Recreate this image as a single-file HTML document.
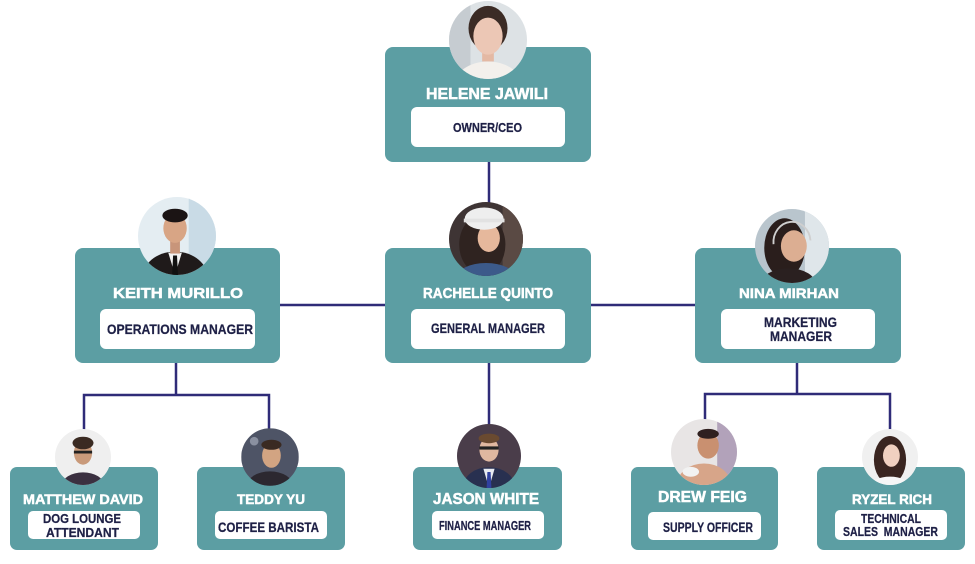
<!DOCTYPE html>
<html><head><meta charset="utf-8"><style>
html,body{margin:0;padding:0;background:#fff;}
svg{display:block;}
.nm{font-family:"Liberation Sans",sans-serif;font-weight:bold;fill:#fff;stroke:#fff;stroke-width:0.5;}
.rl{font-family:"Liberation Sans",sans-serif;font-weight:bold;fill:#1e2046;stroke:#1e2046;stroke-width:0.25;}
</style></head><body>
<svg width="975" height="564" viewBox="0 0 975 564" xmlns="http://www.w3.org/2000/svg">
<defs><clipPath id="c"><circle cx="0" cy="0" r="40"/></clipPath></defs>
<rect width="975" height="564" fill="#fff"/>
<g stroke="#2f2b78" stroke-width="2.5" fill="none">
<line x1="489" y1="160" x2="489" y2="205"/>
<line x1="278" y1="305" x2="387" y2="305"/>
<line x1="589" y1="305" x2="697" y2="305"/>
<polyline points="176,361 176,395"/>
<polyline points="84,431 84,395 269,395 269,430"/>
<line x1="489" y1="361" x2="489" y2="426"/>
<polyline points="797,361 797,394"/>
<polyline points="705,421 705,394 890,394 890,430"/>
</g>
<g fill="#5c9ea3">
<rect x="385" y="47" width="206" height="115" rx="8"/>
<rect x="75" y="248" width="205" height="115" rx="8"/>
<rect x="385" y="248" width="206" height="115" rx="8"/>
<rect x="695" y="248" width="206" height="115" rx="8"/>
<rect x="10" y="467" width="148" height="83" rx="7"/>
<rect x="197" y="467" width="148" height="83" rx="7"/>
<rect x="413" y="467" width="149" height="83" rx="7"/>
<rect x="631" y="467" width="147" height="83" rx="7"/>
<rect x="817" y="467" width="148" height="83" rx="7"/>
</g>
<g fill="#fff">
<rect x="411" y="107" width="154" height="40" rx="6"/>
<rect x="100" y="309" width="155" height="40" rx="6"/>
<rect x="411" y="309" width="154" height="40" rx="6"/>
<rect x="721" y="309" width="154" height="40" rx="6"/>
<rect x="28" y="511" width="112" height="28" rx="5"/>
<rect x="215" y="511" width="112" height="28" rx="5"/>
<rect x="432" y="511" width="112" height="28" rx="5"/>
<rect x="648" y="512" width="113" height="28" rx="5"/>
<rect x="835" y="510" width="112" height="30" rx="5"/>
</g>

<!-- Helene -->
<g transform="translate(488,40) scale(0.975)"><g clip-path="url(#c)">
<rect x="-40" y="-40" width="80" height="80" fill="#dde2e5"/>
<rect x="-40" y="-40" width="22" height="80" fill="#c6ccd1"/>
<ellipse cx="0" cy="-12" rx="20" ry="23" fill="#3b2b25"/>
<ellipse cx="0" cy="46" rx="34" ry="24" fill="#f3f0ec"/>
<rect x="-6" y="8" width="12" height="14" fill="#e4b9a4"/>
<ellipse cx="0" cy="-4" rx="15" ry="19" fill="#ecc7b5"/>
</g></g>
<!-- Keith -->
<g transform="translate(177,236) scale(0.975)"><g clip-path="url(#c)">
<rect x="-40" y="-40" width="80" height="80" fill="#e4edf2"/>
<rect x="12" y="-40" width="28" height="80" fill="#c9dbe6"/>
<ellipse cx="-2" cy="44" rx="34" ry="28" fill="#1f1a1a"/>
<polygon points="-9,17 5,17 -2,40" fill="#f2f2f2"/>
<polygon points="-4,20 0,20 1,40 -5,40" fill="#111"/>
<rect x="-7" y="4" width="10" height="14" fill="#c8957a"/>
<ellipse cx="-2" cy="-8" rx="12" ry="15" fill="#d8a585"/>
<ellipse cx="-2" cy="-21" rx="13" ry="7" fill="#1b1414"/>
</g></g>
<!-- Rachelle -->
<g transform="translate(486,239) scale(0.925)"><g clip-path="url(#c)">
<rect x="-40" y="-40" width="80" height="80" fill="#3e3434"/>
<rect x="18" y="-40" width="22" height="80" fill="#5a4a44"/>
<ellipse cx="-4" cy="6" rx="25" ry="32" fill="#2f2320"/>
<ellipse cx="0" cy="42" rx="32" ry="16" fill="#3c5a8a"/>
<ellipse cx="3" cy="-1" rx="12" ry="15" fill="#e6b89c"/>
<ellipse cx="-2" cy="-22" rx="21" ry="12" fill="#eeeeee"/>
<rect x="-24" y="-22" width="44" height="4" fill="#e2e2e2"/>
</g></g>
<!-- Nina -->
<g transform="translate(792,246) scale(0.925)"><g clip-path="url(#c)">
<rect x="-40" y="-40" width="80" height="80" fill="#b9c5cd"/>
<rect x="14" y="-40" width="26" height="80" fill="#dfe6ea"/>
<ellipse cx="-8" cy="2" rx="22" ry="32" fill="#2a1e1c"/>
<ellipse cx="-4" cy="42" rx="30" ry="18" fill="#2a2020"/>
<ellipse cx="2" cy="0" rx="14" ry="17" fill="#dcae92"/>
<path d="M-20,-2 A20,22 0 0 1 20,-6" stroke="#cfcfcf" stroke-width="2" fill="none"/>
</g></g>
<!-- Matthew -->
<g transform="translate(83,457) scale(0.7)"><g clip-path="url(#c)">
<rect x="-40" y="-40" width="80" height="80" fill="#efefef"/>
<ellipse cx="0" cy="40" rx="30" ry="18" fill="#3b3040"/>
<ellipse cx="0" cy="-6" rx="13" ry="17" fill="#c99a7a"/>
<ellipse cx="0" cy="-20" rx="15" ry="9" fill="#3a2a22"/>
<rect x="-13" y="-9" width="26" height="4" fill="#222"/>
</g></g>
<!-- Teddy -->
<g transform="translate(270,457) scale(0.72)"><g clip-path="url(#c)">
<rect x="-40" y="-40" width="80" height="80" fill="#4e5466"/>
<circle cx="-22" cy="-22" r="6" fill="#8a90a0"/>
<ellipse cx="0" cy="40" rx="32" ry="20" fill="#2c2830"/>
<ellipse cx="2" cy="-2" rx="13" ry="17" fill="#d2a482"/>
<ellipse cx="2" cy="-17" rx="14" ry="7" fill="#3a2a22"/>
</g></g>
<!-- Jason -->
<g transform="translate(489,456) scale(0.8)"><g clip-path="url(#c)">
<rect x="-40" y="-40" width="80" height="80" fill="#4a3d4a"/>
<ellipse cx="0" cy="38" rx="32" ry="24" fill="#283050"/>
<polygon points="-7,16 7,16 0,40" fill="#e8eaf0"/>
<polygon points="-2,20 2,20 3,40 -3,40" fill="#3040a0"/>
<ellipse cx="0" cy="-8" rx="12" ry="15" fill="#e0b8a0"/>
<ellipse cx="0" cy="-22" rx="13" ry="6" fill="#6a4a30"/>
<rect x="-12" y="-12" width="24" height="4" fill="#222"/>
</g></g>
<!-- Drew -->
<g transform="translate(704,452) scale(0.825)"><g clip-path="url(#c)">
<rect x="-40" y="-40" width="80" height="80" fill="#e8e5e5"/>
<rect x="16" y="-40" width="24" height="80" fill="#b2a2ba"/>
<ellipse cx="0" cy="38" rx="32" ry="24" fill="#d7a589"/>
<ellipse cx="-16" cy="24" rx="10" ry="6" fill="#f2f2f2"/>
<ellipse cx="5" cy="-8" rx="13" ry="16" fill="#c99070"/>
<ellipse cx="5" cy="-22" rx="13" ry="6" fill="#302020"/>
</g></g>
<!-- Ryzel -->
<g transform="translate(890,457) scale(0.7)"><g clip-path="url(#c)">
<rect x="-40" y="-40" width="80" height="80" fill="#f0f0f0"/>
<ellipse cx="0" cy="4" rx="23" ry="34" fill="#3a2520"/>
<ellipse cx="0" cy="42" rx="28" ry="14" fill="#f6f6f6"/>
<ellipse cx="2" cy="-2" rx="12" ry="16" fill="#f0d0c0"/>
</g></g>

<!-- Names -->
<text class="nm" x="426" y="99" font-size="16" textLength="122" lengthAdjust="spacingAndGlyphs">HELENE JAWILI</text>
<text class="nm" x="113" y="298" font-size="15" textLength="130" lengthAdjust="spacingAndGlyphs">KEITH MURILLO</text>
<text class="nm" x="423" y="298" font-size="15" textLength="130" lengthAdjust="spacingAndGlyphs">RACHELLE QUINTO</text>
<text class="nm" x="739" y="298" font-size="14" textLength="100" lengthAdjust="spacingAndGlyphs">NINA MIRHAN</text>
<text class="nm" x="23" y="504" font-size="14" textLength="120" lengthAdjust="spacingAndGlyphs">MATTHEW DAVID</text>
<text class="nm" x="237" y="504" font-size="14" textLength="68" lengthAdjust="spacingAndGlyphs">TEDDY YU</text>
<text class="nm" x="433" y="504" font-size="16" textLength="106" lengthAdjust="spacingAndGlyphs">JASON WHITE</text>
<text class="nm" x="658" y="502" font-size="15.5" textLength="89" lengthAdjust="spacingAndGlyphs">DREW FEIG</text>
<text class="nm" x="852" y="504" font-size="14" textLength="80" lengthAdjust="spacingAndGlyphs">RYZEL RICH</text>

<!-- Roles -->
<text class="rl" x="453" y="132" font-size="12.5" textLength="69" lengthAdjust="spacingAndGlyphs">OWNER/CEO</text>
<text class="rl" x="107" y="334" font-size="14" textLength="146" lengthAdjust="spacingAndGlyphs">OPERATIONS MANAGER</text>
<text class="rl" x="431" y="333" font-size="14" textLength="114" lengthAdjust="spacingAndGlyphs">GENERAL MANAGER</text>
<text class="rl" x="764" y="327" font-size="13.5" textLength="73" lengthAdjust="spacingAndGlyphs">MARKETING</text>
<text class="rl" x="770" y="341" font-size="13.5" textLength="62" lengthAdjust="spacingAndGlyphs">MANAGER</text>
<text class="rl" x="43" y="523" font-size="13" textLength="78" lengthAdjust="spacingAndGlyphs">DOG LOUNGE</text>
<text class="rl" x="46" y="537" font-size="13" textLength="73" lengthAdjust="spacingAndGlyphs">ATTENDANT</text>
<text class="rl" x="218" y="532" font-size="14" textLength="101" lengthAdjust="spacingAndGlyphs">COFFEE BARISTA</text>
<text class="rl" x="439" y="530" font-size="12.5" textLength="92" lengthAdjust="spacingAndGlyphs">FINANCE MANAGER</text>
<text class="rl" x="663" y="532" font-size="13.5" textLength="90" lengthAdjust="spacingAndGlyphs">SUPPLY OFFICER</text>
<text class="rl" x="861" y="523" font-size="13" textLength="60" lengthAdjust="spacingAndGlyphs">TECHNICAL</text>
<text class="rl" x="843" y="536" font-size="13" textLength="95" lengthAdjust="spacingAndGlyphs">SALES&#160; MANAGER</text>
</svg>
</body></html>
